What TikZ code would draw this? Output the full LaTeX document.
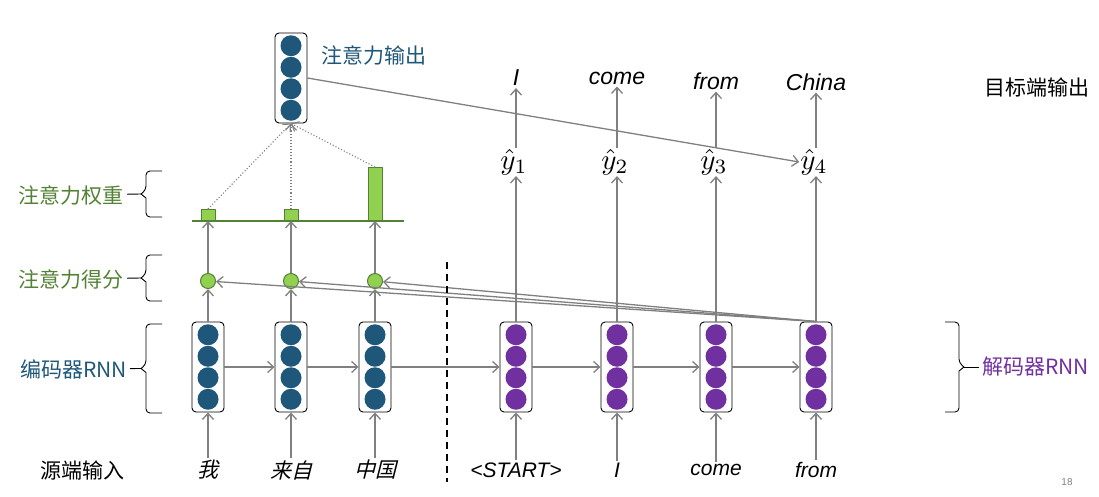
\RequirePackage{fix-cm}
\documentclass[tikz,border=0pt]{standalone}
\usepackage[no-math]{fontspec}
\setmainfont{Liberation Sans}
\newfontfamily\cjk{Noto Sans CJK SC}
\newfontfamily\cjkit[FakeSlant=0.25]{Noto Sans CJK SC}
\usepackage{tikz}
\usetikzlibrary{arrows.meta,positioning}
\definecolor{encblue}{RGB}{31,87,122}
\definecolor{decpurple}{RGB}{112,48,160}
\definecolor{wlight}{RGB}{146,208,80}
\definecolor{wdark}{RGB}{84,130,53}
\definecolor{arrgray}{RGB}{128,128,128}

\begin{document}
\begin{tikzpicture}[x=1pt,y=-1pt, line join=round, >={Straight Barb[length=6pt,width=11pt]},
    cell/.style={draw=black, line width=0.9pt, rounded corners=4pt, minimum width=32pt, minimum height=90pt, inner sep=0pt},
    score/.style={circle, fill=wlight, draw=wdark, line width=1pt, minimum size=15pt, inner sep=0pt},
    bar/.style={rectangle, fill=wlight, draw=wdark, line width=1pt, minimum width=14pt, inner sep=0pt},
    arr/.style={->, draw=arrgray, line width=1.3pt},
    dots/.style={->, draw=arrgray, line width=1.1pt, dotted},
    brc/.style={draw=black, line width=0.9pt},
    lbl/.style={font=\cjk\fontsize{21}{25}\selectfont, inner sep=3pt},
    word/.style={font=\itshape\fontsize{21}{25}\selectfont, inner sep=2pt},
    outword/.style={font=\itshape\fontsize{23}{27}\selectfont, inner sep=2pt},
    cjkword/.style={font=\cjkit\fontsize{21}{25}\selectfont, inner sep=2pt},
    yhat/.style={inner sep=1pt}]
    \useasboundingbox (0,0) rectangle (1099,496);
    % encoder cells
    \foreach \n/\x in {e1/208,e2/291,e3/375} {
        \foreach \k in {-1.5,-0.5,0.5,1.5}
            \fill[encblue] (\x,{367+\k*21.5}) circle (10.5pt);
        \node[cell] (\n) at (\x,367) {};
    }
    % decoder cells
    \foreach \n/\x in {d1/516,d2/617,d3/716,d4/816} {
        \foreach \k in {-1.5,-0.5,0.5,1.5}
            \fill[decpurple] (\x,{367+\k*21.5}) circle (10.5pt);
        \node[cell] (\n) at (\x,367) {};
    }
    % attention output
    \foreach \k in {-1.5,-0.5,0.5,1.5}
        \fill[encblue] (291,{78+\k*21.5}) circle (10.5pt);
    \node[cell] (att) at (291,78) {};
    % scores and weights
    \foreach \n/\x in {s1/208,s2/291,s3/375}
        \node[score] (\n) at (\x,281) {};
    \draw[wdark, line width=1.2pt] (192,221) -- (404,221);
    \foreach \n/\x/\h in {w1/208/11pt,w2/291/11pt,w3/375/53pt}
        \node[bar, minimum height=\h, anchor=south] (\n) at (\x,221) {};
    % inputs
    \node[cjkword] (x1) at (208,470) {我};
    \node[cjkword] (x2) at (291,470) {来自};
    \node[cjkword] (x3) at (375,470) {中国};
    \node[word] (t1) at (516,470) {<START>};
    \node[word] (t2) at (617,470) {I};
    \node[word] (t3) at (716,470) {come};
    \node[word] (t4) at (816,470) {from};
    % outputs
    \foreach \i/\x in {1/514,2/615,3/714,4/814}
        \node[yhat] (y\i) at (\x,162) {\scalebox{2.9}{$\hat{y}_{\i}$}};
    \node[outword] (o1) at (516,78) {I};
    \node[outword] (o2) at (617,78) {come};
    \node[outword] (o3) at (716,81) {from};
    \node[outword] (o4) at (816,82) {China};
    % connectors
    \foreach \i in {1,2,3} {
        \draw[arr] (x\i) -- (e\i);
        \draw[arr] (e\i) -- (s\i);
        \draw[arr] (s\i) -- (w\i.south);
        \draw[dots] (w\i.north) -- (att.south);
        \draw[arr] (d4.north) -- (s\i);
    }
    \foreach \i in {1,2,3,4} {
        \draw[arr] (t\i) -- (d\i);
        \draw[arr] (d\i.north) -- (d\i.north |- y\i.south);
        \draw[arr] (d\i.north |- y\i.north) -- (o\i);
    }
    \draw[arr] (e1) -- (e2);
    \draw[arr] (e2) -- (e3);
    \draw[arr] (e3) -- (d1);
    \draw[arr] (d1) -- (d2);
    \draw[arr] (d2) -- (d3);
    \draw[arr] (d3) -- (d4);
    \draw[arr] (att.east) -- (y4.west);
    % separator
    \draw[black, line width=1.2pt, dash pattern=on 7pt off 5pt] (447,262) -- (447,482);
    % braces
    \foreach \yt/\yb/\c in {171/217/bw,255/301/bs,324/413/be} {
        \draw[brc] (162,\yt) [rounded corners=4pt] -- (146,\yt) -- (146,{(\yt+\yb)/2-4}) [sharp corners] -- (141,{(\yt+\yb)/2})
            -- (146,{(\yt+\yb)/2+4}) [rounded corners=4pt] -- (146,\yb) -- (162,\yb);
        \coordinate (\c) at (141,{(\yt+\yb)/2});
    }
    \draw[brc] (945,322) [rounded corners=4pt] -- (959,322) -- (959,363) [sharp corners] -- (964,367)
        -- (959,371) [rounded corners=4pt] -- (959,412) -- (945,412);
    \coordinate (bd) at (964,367);
    % labels
    \node[lbl, text=encblue, anchor=west] (lo) at (318,55) {注意力输出};
    \node[lbl, text=wdark, anchor=east] (lw) at (127,195) {注意力权重};
    \node[lbl, text=wdark, anchor=east] (ls) at (127,279) {注意力得分};
    \node[lbl, text=encblue, anchor=east] (le) at (130,369) {编码器RNN};
    \node[lbl] (lsrc) at (82,470) {源端输入};
    \node[lbl] (ltgt) at (1037,88) {目标端输出};
    \node[lbl, text=decpurple, anchor=west] (ld) at (979,367) {解码器RNN};
    \node[text=arrgray, font=\fontsize{10}{12}\selectfont] (pg) at (1067,482) {18};
    \draw[brc] (lw) -- (bw);
    \draw[brc] (ls) -- (bs);
    \draw[brc] (le) -- (be);
    \draw[brc] (bd) -- (ld);
\end{tikzpicture}
\end{document}
